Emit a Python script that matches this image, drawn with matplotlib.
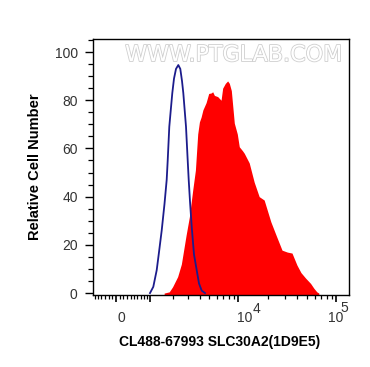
import matplotlib
matplotlib.use('Agg')
import matplotlib.pyplot as plt
import matplotlib.patheffects as pe
from matplotlib.ticker import FixedLocator, MultipleLocator, NullFormatter

plt.rcParams['font.family'] = ['Liberation Sans', 'DejaVu Sans']

# Isotype control (blue outline)
blue_x = [1010, 1131, 1263, 1357, 1472, 1597, 1700, 1749, 1828, 1916, 1985, 2078, 2191, 2328,
          2451, 2561, 2648, 2836, 2960, 3035, 3135, 3271, 3462, 3700, 3914, 4180, 4528]
blue_y = [0, 2.6, 9.5, 17, 26, 37, 47, 55, 69, 77, 83, 89, 93, 94.6,
          93, 88, 83, 69, 55, 47, 38, 27.5, 16, 9.5, 4, 1, 0]

# Stained sample (red filled)
red_x = [1581, 1825, 2000, 2287, 2519, 2842, 3088, 3353, 3584, 3793, 3954, 4120, 4304, 4650,
         4950, 5243, 5448, 5673, 6136, 6651, 6908, 7363, 7773, 8091, 8482, 9102, 9766, 10233,
         11059, 11507, 12933, 14540, 16344, 18368, 21473, 24295, 27939, 31620, 35289, 39644,
         43522, 48540, 54552, 58908, 63166, 66184]
red_y = [0, 0.5, 2.6, 6.8, 12, 24, 31.7, 42.7, 51, 66, 71, 73, 76, 79,
         82.8, 83, 83.5, 82, 81.5, 80, 85, 87, 88, 87, 84, 70.5, 66, 60.7,
         59, 58, 54, 46, 40, 38.6, 29.6, 24, 17.8, 17, 16.6, 11.6,
         8.5, 6.2, 4, 2, 0.5, 0]

x_major = [0, 1000, 10000, 100000]
x_minor = (list(range(-600, 0, 100)) + list(range(100, 1000, 100))
           + list(range(2000, 10000, 1000)) + list(range(20000, 100000, 10000)))
y_major_step = 20
y_minor_step = 5

xlabel = 'CL488-67993 SLC30A2(1D9E5)'
ylabel = 'Relative Cell Number'
watermark = 'WWW.PTGLAB.COM'

fig = plt.figure(figsize=(3.7, 3.67), dpi=100)
ax = fig.add_axes([93 / 370, 72 / 367, 256 / 370, 256 / 367])
ax.set_xscale('asinh', linear_width=1143)

ax.fill_between(red_x, red_y, -1, color='#ff0000', lw=0, zorder=2)
ax.plot(blue_x, blue_y, color='#1c1c8c', lw=1.3, zorder=3)

ax.set_xlim(-646, 134200)
ax.set_ylim(-0.8, 105.4)

ax.xaxis.set_major_locator(FixedLocator(x_major))
ax.xaxis.set_minor_locator(FixedLocator(x_minor))
ax.xaxis.set_major_formatter(NullFormatter())
ax.xaxis.set_minor_formatter(NullFormatter())
ax.yaxis.set_major_locator(MultipleLocator(y_major_step))
ax.yaxis.set_minor_locator(MultipleLocator(y_minor_step))

ax.tick_params(axis='x', which='major', length=5, width=1.2, direction='out', color='black')
ax.tick_params(axis='x', which='minor', length=3, width=0.9, direction='out', color='black')
ax.tick_params(axis='y', which='major', length=6, width=1.0, direction='out', labelsize=10,
               labelcolor='#333333', pad=5)
ax.tick_params(axis='y', which='minor', length=3.5, width=0.9, direction='out')

for s in ax.spines.values():
    s.set_linewidth(1.0)
    s.set_color('black')

# x tick labels (base / superscript drawn as text)
lab_kw = dict(xycoords=('data', 'axes fraction'), textcoords='offset pixels',
              va='baseline', fontsize=10, color='#333333')
ax.annotate('0', xy=(0, 0), xytext=(5, -26.7), ha='center', **lab_kw)
ax.annotate('10', xy=(10000, 0), xytext=(-1.6, -26.7), ha='left', **lab_kw)
ax.annotate('4', xy=(10000, 0), xytext=(14.2, -18.3), ha='left', **lab_kw)
ax.annotate('10', xy=(100000, 0), xytext=(-8.7, -26.7), ha='left', **lab_kw)
ax.annotate('5', xy=(100000, 0), xytext=(4.2, -17.0), ha='left', **lab_kw)

ax.set_xlabel(xlabel, fontsize=10, fontweight='bold')
ax.xaxis.set_label_coords(0.496, -0.1855)
ax.xaxis.label.set_va('center')
ax.set_ylabel(ylabel, fontsize=10.5, fontweight='bold')
ax.yaxis.set_label_coords(-0.2285, 0.5)
ax.yaxis.label.set_va('center')

ax.text(0.55, 0.937, watermark, transform=ax.transAxes, ha='center', va='center',
        fontsize=16, family='DejaVu Sans', color='white', zorder=1,
        path_effects=[pe.withStroke(linewidth=1.2, foreground='#cfcfcf')])

fig.savefig('out.png', dpi=100)
